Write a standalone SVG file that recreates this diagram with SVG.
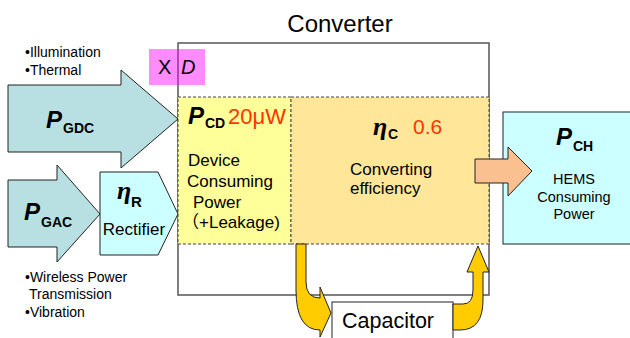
<svg xmlns="http://www.w3.org/2000/svg" width="630" height="338" viewBox="0 0 630 338">
<style>
text{font-family:"Liberation Sans",Arial,"Noto Sans CJK JP",sans-serif;fill:#000}
.pb{font-size:24px;font-weight:bold;font-style:italic}
.ps{font-size:14px;font-weight:bold}
.eta{font-family:"Liberation Serif","Times New Roman",serif;font-size:26px;font-weight:bold;font-style:italic}
.red{fill:#ff3300}
.lbl{font-size:17px}
.sm{font-size:14px}
.dash{stroke:#444;stroke-width:1;stroke-dasharray:3,2}
.blk{stroke:#222;stroke-width:1}
.gold{fill:#ffcc00;stroke:#222;stroke-width:1}
</style>
<rect width="630" height="338" fill="#fff"/>

<g id="converter">
  <rect x="178" y="43" width="311" height="252" fill="#fff" stroke="#555" stroke-width="1.5"/>
  <text x="340" y="32" text-anchor="middle" style="font-size:24px">Converter</text>
</g>

<g id="pcd">
  <rect x="178" y="97" width="113" height="147" fill="#ffff99" class="dash"/>
  <text x="188" y="124" class="pb">P</text>
  <text x="205" y="128" class="ps">CD</text>
  <text x="228" y="124" class="red" style="font-size:22px">20μW</text>
  <text x="188" y="166" class="lbl">Device</text>
  <text x="187" y="187" class="lbl">Consuming</text>
  <text x="193" y="208" class="lbl">Power</text>
  <text x="182" y="228" class="lbl">（+Leakage)</text>
</g>

<g id="etac">
  <rect x="291" y="97" width="198" height="147" fill="#ffe699" class="dash"/>
  <text x="373" y="135" class="eta">η</text>
  <text x="388" y="139" class="ps">C</text>
  <text x="413" y="134" class="red" style="font-size:21px">0.6</text>
  <text x="350" y="175" class="lbl">Converting</text>
  <text x="350" y="194" class="lbl">efficiency</text>
</g>

<g id="xd">
  <rect x="149" y="49" width="56" height="36" fill="#ff00ff" fill-opacity="0.45"/>
  <text x="158" y="74" style="font-size:20px">X</text>
  <text x="181" y="74" style="font-size:20px;font-style:italic">D</text>
</g>

<g id="pgdc">
  <polygon points="8,85 121,85 121,70 178,119 121,168 121,152 8,152" fill="#b8e0e3" class="blk"/>
  <text x="46" y="128" class="pb">P</text>
  <text x="63" y="133" class="ps">GDC</text>
</g>

<g id="pgac">
  <polygon points="8,180 57,180 57,165 100,214 57,262 57,247 8,247" fill="#b8e0e3" class="blk"/>
  <text x="24" y="220" class="pb">P</text>
  <text x="41" y="227" class="ps">GAC</text>
</g>

<g id="rectifier">
  <polygon points="100,172 158,172 178,214 158,255 100,255" fill="#ccffff" class="blk"/>
  <text x="117" y="199" class="eta">η</text>
  <text x="131" y="207" class="ps" style="font-size:15px">R</text>
  <text x="134" y="235" class="lbl" text-anchor="middle">Rectifier</text>
</g>

<g id="pch">
  <rect x="503" y="112" width="140" height="132" fill="#ccffff" stroke="#222" stroke-width="1"/>
  <text x="556" y="145" class="pb">P</text>
  <text x="573" y="151" class="ps">CH</text>
  <text x="574" y="184" text-anchor="middle" style="font-size:14.5px">HEMS</text>
  <text x="574" y="202" text-anchor="middle" style="font-size:14.5px">Consuming</text>
  <text x="574" y="219" text-anchor="middle" style="font-size:14.5px">Power</text>
</g>

<g id="capacitor">
  <rect x="332" y="302" width="121" height="45" fill="#fff" stroke="#222" stroke-width="1"/>
  <text x="342" y="328" style="font-size:21.5px">Capacitor</text>
</g>

<g id="bullets">
  <text x="25" y="57" class="sm">•Illumination</text>
  <text x="25" y="75" class="sm">•Thermal</text>
  <text x="25" y="282" class="sm">•Wireless Power</text>
  <text x="29" y="299" class="sm">Transmission</text>
  <text x="25" y="317" class="sm">•Vibration</text>
</g>

<g id="connectors">
  <polygon points="475,159 508,159 508,147 532,171 508,196 508,183 475,183" fill="#fac090" class="blk"/>
  <path d="M296,244 L306,244 L306,282 Q306,298 320,298 L320,287 L331,313 L320,337 L320,330 Q296,330 296,290 Z" class="gold"/>
  <path d="M453,304 L463,304 Q473,304 473,290 L473,272 L467,272 L478,246 L489,272 L483,272 L483,300 Q483,330 460,330 L453,330 Z" class="gold"/>
</g>
</svg>
